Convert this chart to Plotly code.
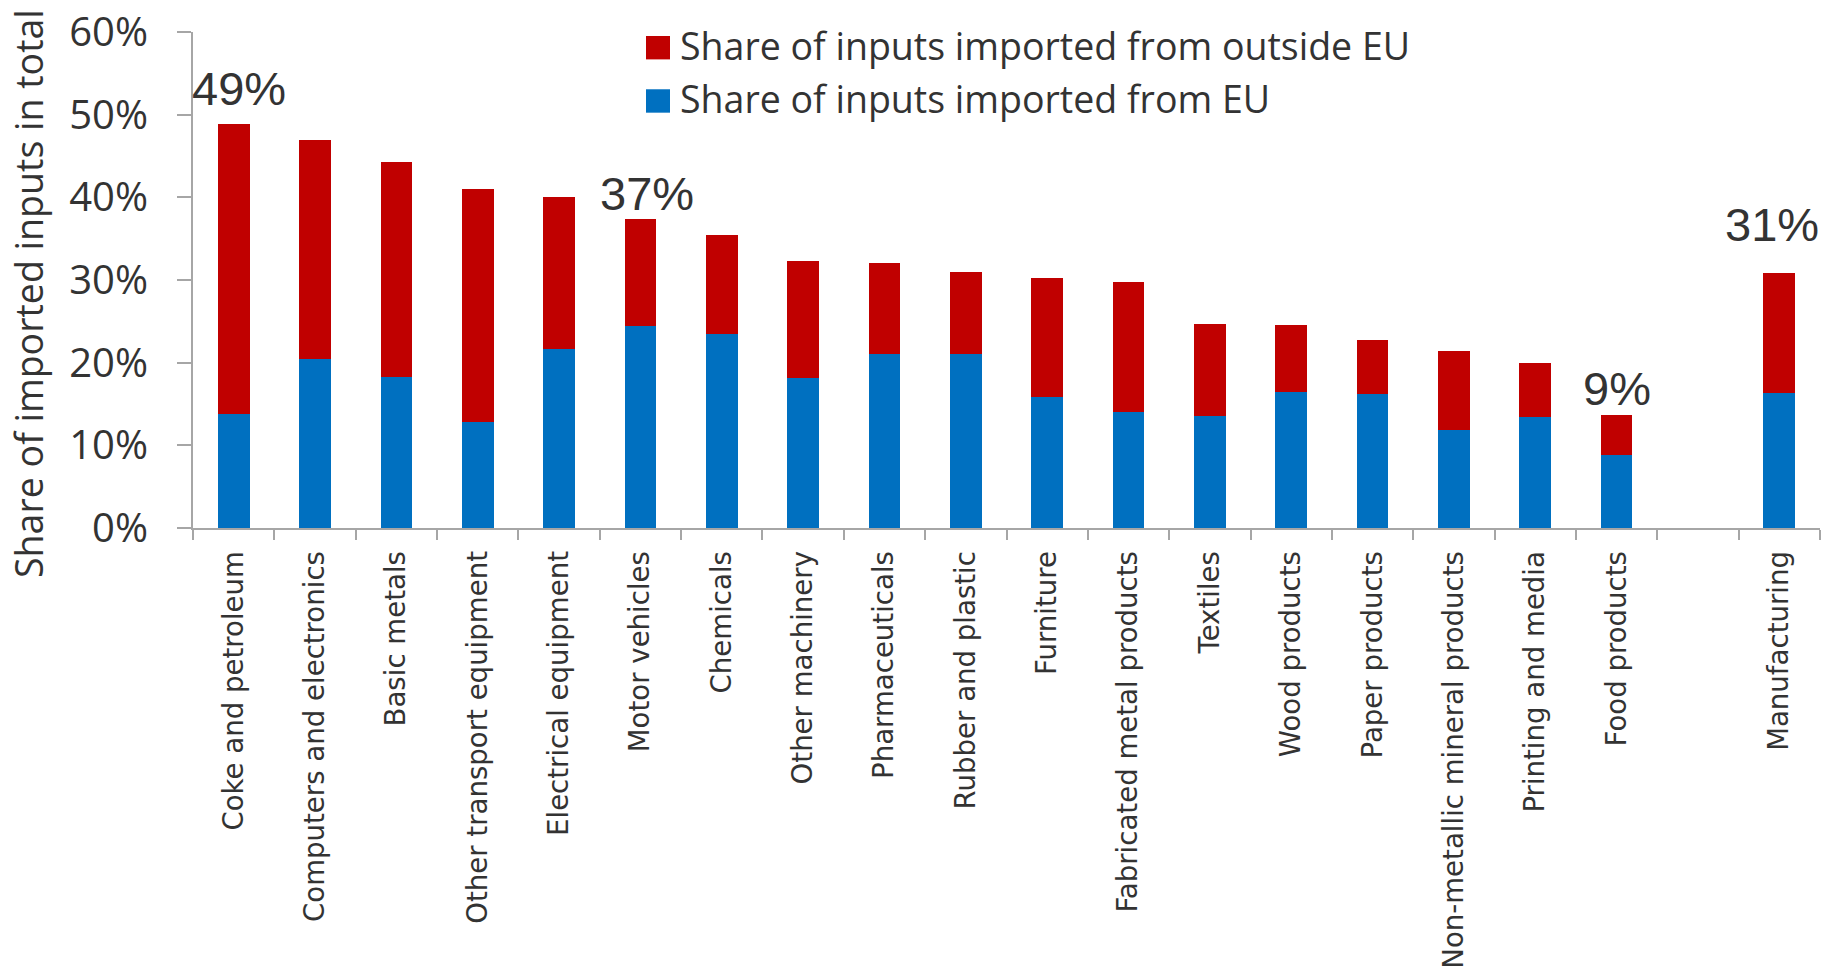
import plotly.graph_objects as go

categories = [
    "Coke and petroleum", "Computers and electronics", "Basic metals",
    "Other transport equipment", "Electrical equipment", "Motor vehicles",
    "Chemicals", "Other machinery", "Pharmaceuticals", "Rubber and plastic",
    "Furniture", "Fabricated metal products", "Textiles", "Wood products",
    "Paper products", "Non-metallic mineral products", "Printing and media",
    "Food products", " ", "Manufacturing",
]
share_eu = [13.8, 20.5, 18.3, 12.8, 21.7, 24.4, 23.5, 18.2, 21.1, 21.1,
            15.8, 14.0, 13.5, 16.5, 16.2, 11.8, 13.4, 8.8, None, 16.3]
share_outside_eu = [35.1, 26.4, 26.0, 28.2, 18.4, 13.0, 11.9, 14.1, 10.9, 9.9,
                    14.5, 15.8, 11.2, 8.0, 6.6, 9.6, 6.5, 4.9, None, 14.6]
y_ticks = [0, 10, 20, 30, 40, 50, 60]
callouts = [  # (category, text, y position in %, x shift px)
    ("Coke and petroleum", "49%", 53.2, 5),
    ("Motor vehicles", "37%", 40.5, 7),
    ("Food products", "9%", 16.9, 0),
    ("Manufacturing", "31%", 36.7, -7),
]
legend_names = ["Share of inputs imported from outside EU", "Share of inputs imported from EU"]

RED = "#C00000"
BLUE = "#0070C0"
AXIS = "#A6A6A6"
TXT = "#333333"

# layout geometry (pixels)
W, H = 1821, 970
L, R, T, B = 193, 1, 32, 440
PW, PH = W - L - R, H - T - B

def px_x(px):
    return (px - L) / PW

def px_y(py):
    return (H - B - py) / PH

fig = go.Figure()
fig.add_trace(go.Bar(x=categories, y=share_eu, name=legend_names[1],
                     marker=dict(color=BLUE, line=dict(width=0)), width=0.39))
fig.add_trace(go.Bar(x=categories, y=share_outside_eu, name=legend_names[0],
                     marker=dict(color=RED, line=dict(width=0)), width=0.39))

annotations = []
for cat, txt, yv, xs in callouts:
    annotations.append(dict(x=cat, y=yv, xref="x", yref="y", text=txt, showarrow=False,
                            xshift=xs, xanchor="center", yanchor="middle",
                            font=dict(family="Liberation Sans", size=47, color=TXT)))

# y axis title
annotations.append(dict(x=px_x(29), y=px_y(295), xref="paper", yref="paper",
                        text="Share of imported inputs in total", textangle=-90,
                        showarrow=False, xanchor="center", yanchor="middle",
                        font=dict(family="Open Sans", size=37.5, color=TXT)))

# legend
shapes = []
legend_rows = [(legend_names[0], RED, 36, 59.5), (legend_names[1], BLUE, 89.5, 113)]
for name, col, y0, y1 in legend_rows:
    shapes.append(dict(type="rect", xref="paper", yref="paper",
                       x0=px_x(646), x1=px_x(670), y0=px_y(y1), y1=px_y(y0),
                       fillcolor=col, line=dict(width=0)))
    annotations.append(dict(x=px_x(678), y=px_y((y0 + y1) / 2 - 2.5), xref="paper", yref="paper",
                            text=name, showarrow=False, xanchor="left", yanchor="middle",
                            font=dict(family="Open Sans", size=37.5, color=TXT)))

fig.update_layout(
    width=W, height=H,
    margin=dict(l=L, r=R, t=T, b=B, pad=0),
    barmode="stack",
    showlegend=False,
    plot_bgcolor="white", paper_bgcolor="white",
    annotations=annotations, shapes=shapes,
)
fig.update_xaxes(
    type="category", categoryorder="array", categoryarray=categories,
    tickangle=-90, tickfont=dict(family="DejaVu Sans", size=27.6, color=TXT),
    ticks="outside", tickson="boundaries", ticklen=10, tickwidth=2, tickcolor=AXIS,
    showline=True, linecolor=AXIS, linewidth=2, showgrid=False, zeroline=False,
    ticklabelstandoff=10, range=[-0.5, 19.5],
)
fig.update_yaxes(
    range=[0, 60], tickvals=y_ticks, ticktext=[f"{v}%" for v in y_ticks],
    tickfont=dict(family="Open Sans", size=40, color=TXT),
    ticks="outside", ticklen=14, tickwidth=2, tickcolor=AXIS,
    showline=True, linecolor=AXIS, linewidth=2, showgrid=False, zeroline=False,
    ticklabelstandoff=21,
)

fig.write_html("out.html")
